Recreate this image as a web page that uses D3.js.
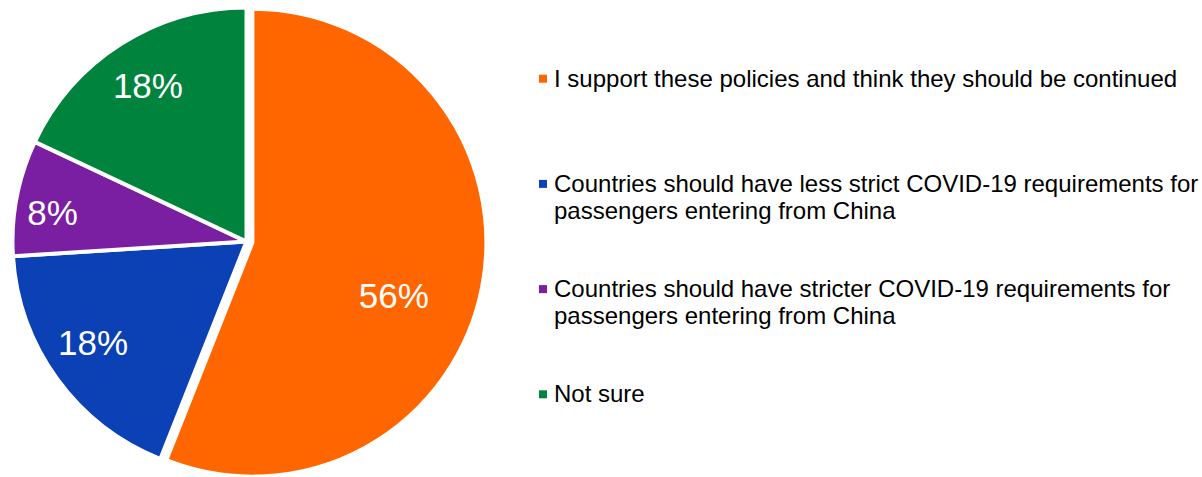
<!DOCTYPE html>
<html>
<head>
<meta charset="utf-8">
<script src="https://cdn.jsdelivr.net/npm/d3@7"></script>
<style>
  html, body { margin: 0; padding: 0; background: #fff; overflow: hidden; }
  svg { display: block; }
  text { font-family: "Liberation Sans", Arial, sans-serif; }
</style>
</head>
<body>
<svg id="chart" width="1202" height="477"></svg>
<script>
// Survey responses, clockwise from 12 o'clock
const categories = [
  "I support these policies and think they should be continued",
  "Countries should have less strict COVID-19 requirements for passengers entering from China",
  "Countries should have stricter COVID-19 requirements for passengers entering from China",
  "Not sure"
];
const legendLines = [
  ["I support these policies and think they should be continued"],
  ["Countries should have less strict COVID-19 requirements for", "passengers entering from China"],
  ["Countries should have stricter COVID-19 requirements for", "passengers entering from China"],
  ["Not sure"]
];
const values = [56, 18, 8, 18];
const colors = ["#FF6600", "#0B41B5", "#7B1FA2", "#00843D"];

const svg = d3.select("#chart");
const cx = 246.5, cy = 241.5, R = 234;
const explode = 6;          // first slice pulled out from the centre

const pie = d3.pie().sort(null).value(d => d)(values);
const arc = d3.arc().innerRadius(0).outerRadius(R);

const g = svg.append("g").attr("transform", `translate(${cx},${cy})`);

function offset(d, dist) {
  const a = (d.startAngle + d.endAngle) / 2;
  return [Math.sin(a) * dist, -Math.cos(a) * dist];
}

const slices = g.selectAll("g.slice")
  .data(pie)
  .join("g")
  .attr("class", "slice")
  .attr("transform", (d, i) => {
    const [dx, dy] = i === 0 ? offset(d, explode) : [0, 0];
    return `translate(${dx},${dy})`;
  });

slices.append("path")
  .attr("d", arc)
  .attr("fill", (d, i) => colors[i])
  .attr("stroke", "#fff")
  .attr("stroke-width", 4)
  .attr("stroke-linejoin", "miter");

// Data labels: placed along each slice, with the large slice's label nudged inward
const labelPlace = [
  { r: 151, da: 9.7 },
  { r: 184, da: 2.5 },
  { r: 196, da: -2.5 },
  { r: 184, da: 0 }
];
slices.append("text")
  .attr("transform", (d, i) => {
    const p = labelPlace[i];
    const a = (d.startAngle + d.endAngle) / 2 + p.da * Math.PI / 180;
    return `translate(${Math.sin(a) * p.r},${-Math.cos(a) * p.r})`;
  })
  .attr("text-anchor", "middle")
  .attr("dy", "0.35em")
  .attr("fill", "#fff")
  .style("font-size", "35px")
  .text(d => d3.format(".0f")(d.value) + "%");

// Legend
const legendX = 539, legendY0 = 86.7, legendStep = 105.2, lineH = 26.7;
const legend = svg.append("g");
const items = legend.selectAll("g.item")
  .data(categories)
  .join("g")
  .attr("class", "item")
  .attr("transform", (d, i) => `translate(${legendX},${legendY0 + i * legendStep})`);

items.append("rect")
  .attr("x", 0)
  .attr("y", -12)
  .attr("width", 8)
  .attr("height", 8)
  .attr("fill", (d, i) => colors[i]);

items.append("text")
  .attr("x", 15)
  .attr("y", 0)
  .attr("fill", "#000")
  .style("font-size", "24px")
  .selectAll("tspan")
  .data((d, i) => legendLines[i])
  .join("tspan")
  .attr("x", 15)
  .attr("dy", (d, j) => j === 0 ? 0 : lineH)
  .text(d => d);
</script>
</body>
</html>
